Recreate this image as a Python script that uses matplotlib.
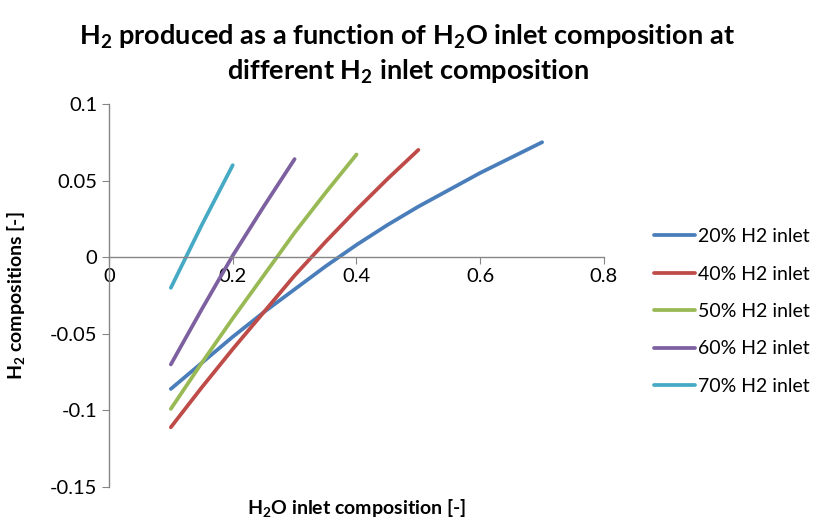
import matplotlib
matplotlib.use("Agg")
import matplotlib.pyplot as plt

plt.rcParams['font.family'] = ['Lato', 'DejaVu Sans']
plt.rcParams['mathtext.fontset'] = 'custom'
plt.rcParams['mathtext.rm'] = 'Lato'
plt.rcParams['mathtext.bf'] = 'Lato:bold'
plt.rcParams['mathtext.default'] = 'bf'

# H2O inlet composition
x_20 = [0.1, 0.15, 0.2, 0.25, 0.3, 0.35, 0.4, 0.45, 0.5, 0.55, 0.6, 0.65, 0.7]
y_20 = [-0.086, -0.069, -0.052, -0.036, -0.021, -0.006, 0.008, 0.021, 0.033, 0.044, 0.055, 0.065, 0.075]
x_40 = [0.1, 0.15, 0.2, 0.25, 0.3, 0.35, 0.4, 0.45, 0.5]
y_40 = [-0.111, -0.085, -0.060, -0.036, -0.012, 0.010, 0.031, 0.051, 0.070]
x_50 = [0.1, 0.15, 0.2, 0.25, 0.3, 0.35, 0.4]
y_50 = [-0.099, -0.069, -0.040, -0.012, 0.016, 0.042, 0.067]
x_60 = [0.1, 0.15, 0.2, 0.25, 0.3]
y_60 = [-0.070, -0.034, 0.001, 0.033, 0.064]
x_70 = [0.1, 0.15, 0.2]
y_70 = [-0.020, 0.021, 0.060]

series = [
    (x_20, y_20, '20% H2 inlet', '#4A7EBB'),
    (x_40, y_40, '40% H2 inlet', '#BE4B48'),
    (x_50, y_50, '50% H2 inlet', '#98B954'),
    (x_60, y_60, '60% H2 inlet', '#7D60A0'),
    (x_70, y_70, '70% H2 inlet', '#46AAC5'),
]

fig = plt.figure(figsize=(8.15, 5.17), dpi=100)
ax = fig.add_axes([0.1337, 0.058, 0.6074, 0.741])

for xs, ys, lab, col in series:
    ax.plot(xs, ys, color=col, lw=2.7, label=lab, solid_capstyle='round')

ax.set_xlim(0, 0.8)
ax.set_ylim(-0.15, 0.1)
ax.set_xticks([0, 0.2, 0.4, 0.6, 0.8])
ax.set_xticklabels(['0', '0.2', '0.4', '0.6', '0.8'])
ax.set_yticks([-0.15, -0.1, -0.05, 0, 0.05, 0.1])
ax.set_yticklabels(['-0.15', '-0.1', '-0.05', '0', '0.05', '0.1'])

ax.spines['top'].set_visible(False)
ax.spines['right'].set_visible(False)
ax.spines['bottom'].set_position(('data', 0))
for s in ['left', 'bottom']:
    ax.spines[s].set_color('#868686')
    ax.spines[s].set_linewidth(1.0)
ax.tick_params(axis='both', colors='#868686', labelcolor='black', labelsize=14.5,
               length=5, direction='out')
ax.tick_params(axis='x', pad=3)

ax.set_ylabel(r'H$_2$ compositions [-]', fontsize=14, fontweight='bold')
ax.yaxis.set_label_coords(-0.165, 0.5)
ax.set_xlabel(r'H$_2$O inlet composition [-]', fontsize=14, fontweight='bold')
ax.xaxis.set_label_coords(0.5, -0.025)

fig.text(0.5, 0.895, 'H$_2$ produced as a function of H$_2$O inlet composition at\ndifferent H$_2$ inlet composition',
         ha='center', va='center', fontsize=19.5, fontweight='bold', linespacing=1.3)

ax.legend(loc='center left', bbox_to_anchor=(1.065, 0.458), frameon=False, fontsize=14,
          handlelength=2.1, handletextpad=0.2, labelspacing=1.05)

fig.savefig('out.png', dpi=100)
